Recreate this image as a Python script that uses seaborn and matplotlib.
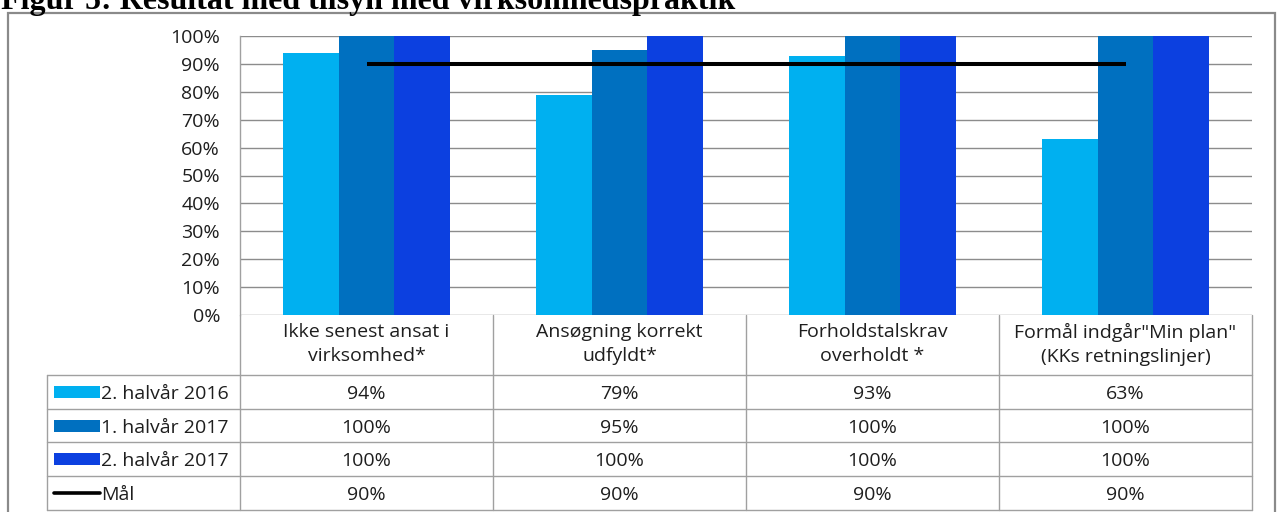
import numpy as np
import pandas as pd
import matplotlib
matplotlib.use("Agg")
import matplotlib.pyplot as plt
from matplotlib.lines import Line2D
from matplotlib.patches import Rectangle
import matplotlib.transforms as mtransforms
import seaborn as sns

# ---------------- data ----------------
title = "Figur 5: Resultat med tilsyn med virksomhedspraktik"
categories = ["Ikke senest ansat i\nvirksomhed*",
              "Ansøgning korrekt\nudfyldt*",
              "Forholdstalskrav\noverholdt *",
              "Formål indgår\"Min plan\"\n(KKs retningslinjer)"]
series_names = ["2. halvår 2016", "1. halvår 2017", "2. halvår 2017"]
values_2016_h2 = [94, 79, 93, 63]
values_2017_h1 = [100, 95, 100, 100]
values_2017_h2 = [100, 100, 100, 100]
goal_name = "Mål"
goal_values = [90, 90, 90, 90]
y_ticks = list(range(0, 101, 10))
colors = ["#00B0F0", "#0070C0", "#0C40E0"]

series_values = [values_2016_h2, values_2017_h1, values_2017_h2]
df = pd.DataFrame({
    "category": categories * 3,
    "series": [s for s in series_names for _ in categories],
    "value": [v for vals in series_values for v in vals],
})
df["category"] = pd.Categorical(df["category"], categories=categories, ordered=True)
df["series"] = pd.Categorical(df["series"], categories=series_names, ordered=True)

# ---------------- style ----------------
sns.set_style("white")
plt.rcParams["font.family"] = ["Open Sans", "DejaVu Sans"]
FS = 14
TXT = "#1e1e1e"
GRID = "#8c8c8c"
TBL = "#a0a0a0"

W, H, DPI = 1278, 512, 100
fig = plt.figure(figsize=(W / DPI, H / DPI), dpi=DPI)

def fx(x):
    return x / W

def fy(y):
    return 1 - y / H

ax_l, ax_r, ax_t, ax_b = 240, 1252, 36, 315
ax = fig.add_axes([fx(ax_l), fy(ax_b), fx(ax_r - ax_l), (ax_b - ax_t) / H])

sns.barplot(data=df, x="category", y="value", hue="series", palette=colors,
            width=0.664, gap=0, saturation=1, errorbar=None, legend=False,
            linewidth=0, ax=ax)
ax.plot(np.arange(len(categories)), goal_values, color="black", lw=2.9,
        solid_capstyle="butt", zorder=5)

ax.set_xlim(-0.5, len(categories) - 0.5)
ax.set_ylim(0, 100)
ax.set_yticks(y_ticks)
ax.set_yticklabels([f"{v}%" for v in y_ticks])
ax.yaxis.grid(True, color=GRID, lw=1.0)
ax.xaxis.grid(False)
ax.set_axisbelow(True)
for s in ["top", "right", "bottom"]:
    ax.spines[s].set_visible(False)
ax.spines["left"].set_color(TBL)
ax.spines["left"].set_linewidth(1.0)
ax.set_xlabel("")
ax.set_ylabel("")
ax.tick_params(axis="y", length=0, pad=14.4, labelsize=FS, labelcolor=TXT)
ax.tick_params(axis="x", length=0, pad=5.5, labelsize=FS, labelcolor=TXT)
for lab in ax.get_xticklabels():
    lab.set_linespacing(1.42)

# ---------------- data table ----------------
rows_y = [375, 408.5, 442, 475.5, 509.5]
leg_left = 47
fig.canvas.draw()
col_edges_px = [ax.transData.transform((x, 0))[0] for x in np.arange(len(categories) + 1) - 0.5]
col_centers_px = [ax.transData.transform((x, 0))[0] for x in np.arange(len(categories))]

def hline(y, x0, x1):
    fig.add_artist(Line2D([fx(x0), fx(x1)], [fy(y), fy(y)], color=TBL, lw=1.0,
                          transform=fig.transFigure))

def vline(x, y0, y1):
    fig.add_artist(Line2D([fx(x), fx(x)], [fy(y0), fy(y1)], color=TBL, lw=1.0,
                          transform=fig.transFigure))

for y in rows_y:
    hline(y, leg_left, col_edges_px[-1])
vline(leg_left, rows_y[0], rows_y[-1])
for x in col_edges_px:
    vline(x, ax_b, rows_y[-1])

table_rows = [(n, vals, c) for n, vals, c in zip(series_names, series_values, colors)]
table_rows.append((goal_name, goal_values, None))
for i, (name, vals, c) in enumerate(table_rows):
    yc = (rows_y[i] + rows_y[i + 1]) / 2 + 0.5
    if c is not None:
        fig.add_artist(Rectangle((fx(54), fy(yc + 6)), fx(46), 12 / H, color=c,
                                 transform=fig.transFigure, lw=0))
    else:
        fig.add_artist(Line2D([fx(54), fx(100)], [fy(yc), fy(yc)], color="black",
                              lw=2.6, transform=fig.transFigure))
    fig.text(fx(101), fy(yc), name, ha="left", va="center_baseline", fontsize=FS, color=TXT)
    for xc, v in zip(col_centers_px, vals):
        fig.text(fx(xc), fy(yc), f"{v}%", ha="center", va="center_baseline",
                 fontsize=FS, color=TXT)

# ---------------- frame and title ----------------
fig.add_artist(Rectangle((fx(7.5), fy(530)), fx(1275 - 7.5), (530 - 12.5) / H,
                         fill=False, edgecolor="#8a8a8a", lw=1.6,
                         transform=fig.transFigure))
t = fig.text(fx(1), fy(9), title, ha="left", va="baseline", fontsize=22,
             fontweight="bold", family=["Liberation Serif", "DejaVu Serif"], color="black")
r = fig.canvas.get_renderer()
w = t.get_window_extent(renderer=r).width
t.set_fontsize(22 * 734 / w)

fig.savefig("out.png", dpi=DPI)
